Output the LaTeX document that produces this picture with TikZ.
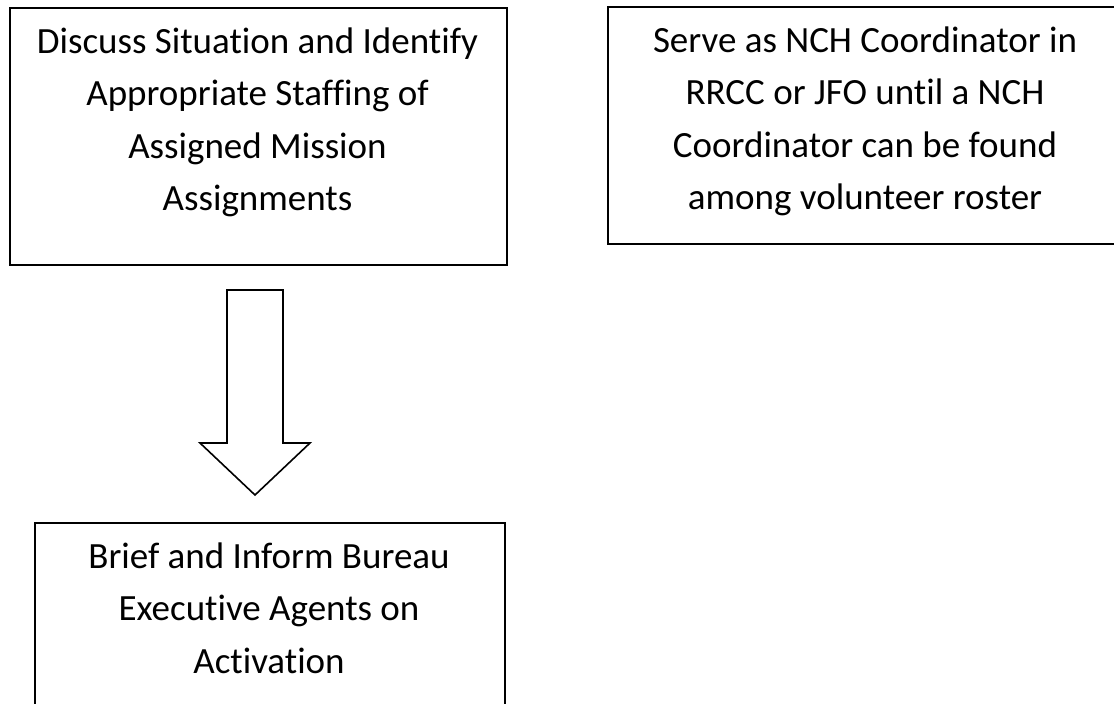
\documentclass[tikz,border=0pt]{standalone}
\usepackage{fontspec}
\setmainfont{Carlito}[Ligatures=NoCommon]
\begin{document}
\begin{tikzpicture}[x=1pt,y=-1pt,
  box/.style={draw=black,line width=1.8pt,inner sep=0pt,anchor=north west},
  lbl/.style={align=center,inner sep=0pt,anchor=north,font=\fontsize{37}{52.5}\selectfont},
  blockarrow/.style={draw=black,line width=1.6pt,line join=miter,fill=white}]
\useasboundingbox (0,0) rectangle (1114,704);
\clip (0,0) rectangle (1114,704);
% boxes
\node[box,minimum width=497pt,minimum height=257pt] (b1) at (9,7) {};
\node[box,minimum width=516pt,minimum height=237pt] (b2) at (607,6) {};
\node[box,minimum width=470pt,minimum height=200pt] (b3) at (34,522) {};
% texts
\node[lbl] (t1) at (257.5,16.25) {\strut Discuss Situation and Identify\\Appropriate Staffing of\\Assigned Mission\\Assignments};
\node[lbl] (t2) at (865,15.25) {\strut Serve as NCH Coordinator in\\RRCC or JFO until a NCH\\Coordinator can be found\\among volunteer roster};
\node[lbl] (t3) at (269,531.25) {\strut Brief and Inform Bureau\\Executive Agents on\\Activation};
% block arrow from b1 to b3
\coordinate (atop) at (255,290);
\coordinate (atip) at (255,495);
\draw[blockarrow] ([xshift=-28pt]atop) -- ([xshift=28pt]atop) -- ([xshift=28pt,yshift=52pt]atip)
  -- ([xshift=55pt,yshift=52pt]atip) -- (atip) -- ([xshift=-55pt,yshift=52pt]atip)
  -- ([xshift=-28pt,yshift=52pt]atip) -- cycle;
\end{tikzpicture}
\end{document}
